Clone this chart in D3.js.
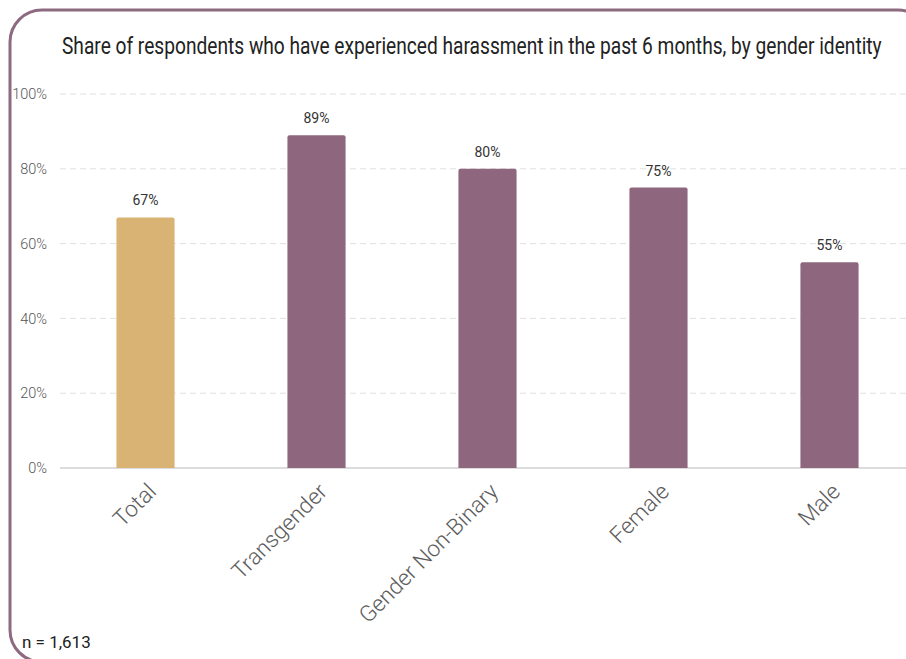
<!DOCTYPE html>
<html>
<head>
<meta charset="utf-8">
<script src="https://cdn.jsdelivr.net/npm/d3@7"></script>
<style>
  html, body { margin: 0; padding: 0; background: #fff; }
  svg { display: block; font-family: Roboto, "Noto Sans", sans-serif; }
</style>
</head>
<body>
<svg id="chart" width="906" height="659"></svg>
<script>
// Harassment share by gender identity
const categories = ["Total", "Transgender", "Gender Non-Binary", "Female", "Male"];
const shares = [67, 89, 80, 75, 55];
const yTicks = [0, 20, 40, 60, 80, 100];
const titleText = "Share of respondents who have experienced harassment in the past 6 months, by gender identity";
const noteText = "n = 1,613";

const W = 906, H = 659;
const svg = d3.select("#chart");

// card frame
svg.append("rect")
  .attr("x", 10).attr("y", 10)
  .attr("width", 920).attr("height", 652)
  .attr("rx", 32).attr("ry", 32)
  .attr("fill", "#fff")
  .attr("stroke", "#8e6a80")
  .attr("stroke-width", 3);

const plot = { left: 60, right: 915, top: 94, bottom: 468 };

const x = d3.scaleBand()
  .domain(categories)
  .range([plot.left, plot.right])
  .paddingInner(0.66)
  .paddingOuter(0.33);

const y = d3.scaleLinear()
  .domain([0, 100])
  .range([plot.bottom, plot.top]);

// title, squeezed horizontally to a condensed look
const titleWidth = 820;
const title = svg.append("text")
  .attr("font-size", 23)
  .attr("fill", "#222")
  .text(titleText);
const natural = title.node().getComputedTextLength();
title.attr("transform", `translate(62,54) scale(${titleWidth / natural},1)`);

// gridlines
const grid = svg.append("g");
grid.selectAll("line")
  .data(yTicks)
  .join("line")
  .attr("x1", plot.left).attr("x2", W)
  .attr("y1", d => y(d)).attr("y2", d => y(d))
  .attr("stroke", d => d === 0 ? "#dcdcdc" : "#e0e0e0")
  .attr("stroke-width", d => d === 0 ? 2 : 1)
  .attr("stroke-dasharray", d => d === 0 ? null : "6,4");

// y axis labels
const yAxis = d3.axisLeft(y)
  .tickValues(yTicks)
  .tickFormat(d => d + "%")
  .tickSize(0)
  .tickPadding(0);
const yg = svg.append("g")
  .attr("transform", `translate(${plot.left - 13},0)`)
  .call(yAxis);
yg.select(".domain").remove();
yg.selectAll("text")
  .attr("font-family", "Roboto, sans-serif")
  .attr("font-size", 14.5)
  .attr("font-weight", 300)
  .attr("fill", "#555");

// bars with slightly rounded tops
const r = 2;
function barPath(d, i) {
  const x0 = x(d), w = x.bandwidth();
  const yt = y(shares[i]), yb = y(0);
  return `M${x0},${yb}V${yt + r}Q${x0},${yt} ${x0 + r},${yt}H${x0 + w - r}Q${x0 + w},${yt} ${x0 + w},${yt + r}V${yb}Z`;
}
svg.append("g").selectAll("path")
  .data(categories)
  .join("path")
  .attr("d", barPath)
  .attr("fill", (d, i) => i === 0 ? "#d8b373" : "#8e677e");

// value labels
svg.append("g").selectAll("text")
  .data(categories)
  .join("text")
  .attr("x", d => x(d) + x.bandwidth() / 2)
  .attr("y", (d, i) => y(shares[i]) - 12)
  .attr("text-anchor", "middle")
  .attr("font-size", 14)
  .attr("fill", "#333")
  .text((d, i) => shares[i] + "%");

// x axis labels, rotated
const xAxis = d3.axisBottom(x).tickSize(0).tickPadding(0);
const xg = svg.append("g")
  .attr("transform", `translate(0,${plot.bottom})`)
  .call(xAxis);
xg.select(".domain").remove();
xg.selectAll("text")
  .attr("font-family", "Roboto, sans-serif")
  .attr("font-size", 22.5)
  .attr("font-weight", 300)
  .attr("fill", "#5c5c5c")
  .attr("text-anchor", "end")
  .attr("dy", 0)
  .attr("transform", "translate(12,25) rotate(-45)");

// sample size note
svg.append("text")
  .attr("x", 22).attr("y", 648)
  .attr("font-size", 17)
  .attr("fill", "#222")
  .text(noteText);
</script>
</body>
</html>
